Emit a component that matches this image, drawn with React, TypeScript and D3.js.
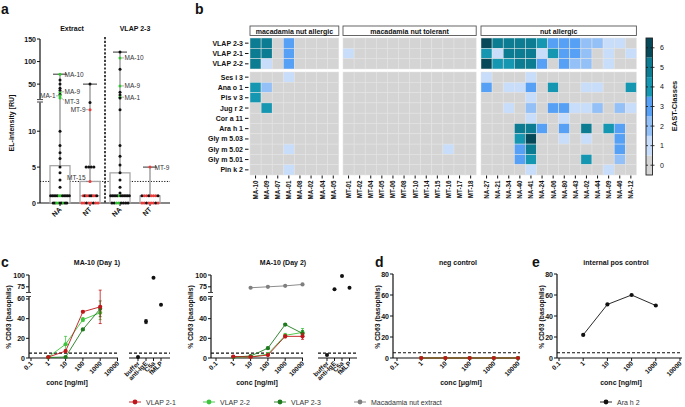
import React, { useEffect, useRef } from 'react'
import * as d3 from 'd3'

const FONT = '"Liberation Sans", Arial, sans-serif'

// ---------- panel a (box plots)
const aCategories = ['NA', 'NT', 'NA', 'NT']
const aTitles = ['Extract', 'VLAP 2-3']
const aQ3 = [5.2, 3, 4.2, 1]
const aMedian = [1, 1, 1, 0]
const aMax = [72, 50, 121, 5]
const aTicksLow = [0, 5, 10]
const aTicksUp = [50, 100, 150]
// [value, colour code] k = black, g = MA (green), r = MT (red)
const aExtractNA: [number, string][] = [
    [72, 'g'], [59, 'k'], [50, 'k'], [41, 'k'], [36, 'k'], [31, 'g'], [27, 'k'], [24, 'g'], [19, 'g'],
    [10, 'k'], [8, 'k'], [7, 'k'], [6.2, 'k'], [5, 'k'], [4.2, 'k'], [3.2, 'k'], [2.2, 'k'],
    [1, 'k'], [1, 'k'], [1, 'k'], [1, 'k'], [1, 'k'], [1, 'g'], [1, 'g'], [1, 'k'], [1, 'k'], [1, 'k'], [1, 'k'], [1, 'k'],
    [0, 'k'], [0, 'k'], [0, 'g'], [0, 'g'], [0, 'k'], [0, 'k'], [0, 'g'], [0, 'k'], [0, 'k']
]
const aExtractNT: [number, string][] = [
    [50, 'k'], [14, 'k'], [13, 'r'], [5, 'k'], [5, 'k'], [5, 'k'], [5, 'k'], [3, 'r'],
    [1, 'r'], [1, 'k'], [1, 'r'], [1, 'r'], [1, 'k'], [1, 'k'], [1, 'r'], [1, 'r'], [1, 'k'],
    [0, 'r'], [0, 'r'], [0, 'k'], [0, 'r'], [0, 'r'], [0, 'k'], [0, 'r'], [0, 'r']
]
const aVlapNA: [number, string][] = [
    [121, 'k'], [108, 'g'], [83, 'k'], [46, 'g'], [32, 'k'], [26, 'k'], [21, 'g'], [19, 'k'], [13, 'k'],
    [8, 'k'], [6.5, 'k'], [5.3, 'k'], [4.2, 'k'], [3.2, 'k'], [2.2, 'k'], [1.4, 'k'],
    [1, 'k'], [1, 'k'], [1, 'k'], [1, 'k'], [1, 'k'], [1, 'g'], [1, 'k'], [1, 'k'], [1, 'k'], [1, 'k'], [1, 'k'], [1, 'k'],
    [0, 'k'], [0, 'k'], [0, 'g'], [0, 'g'], [0, 'k'], [0, 'k'], [0, 'k'], [0, 'k']
]
const aVlapNT: [number, string][] = [
    [5, 'r'],
    [1, 'k'], [1, 'r'], [1, 'r'], [1, 'k'], [1, 'r'], [1, 'r'], [1, 'r'], [1, 'k'],
    [0, 'r'], [0, 'r'], [0, 'k'], [0, 'r'], [0, 'r'], [0, 'r'], [0, 'k'], [0, 'r']
]
const aPoints = [aExtractNA, aExtractNT, aVlapNA, aVlapNT]
// [column, value, text, side, baseline shift]
const aLabels: [number, number, string, string, number][] = [
    [0, 72, 'MA-10', 'r', 0], [0, 33, 'MA-9', 'r', 0], [0, 19, 'MT-3', 'r', 3.5], [0, 24, 'MA-1', 'l', 0],
    [1, 13, 'MT-9', 'l', 0], [1, 3, 'MT-15', 'l', -4],
    [2, 108, 'MA-10', 'r', 0], [2, 46, 'MA-9', 'r', 0], [2, 21, 'MA-1', 'r', 0],
    [3, 5, 'MT-9', 'r', 0]
]

// ---------- panel b (heatmap)
const vlapRows = ['VLAP 2-3', 'VLAP 2-1', 'VLAP 2-2']
const allergenRows = ['Ses i 3', 'Ana o 1', 'Pis v 3', 'Jug r 2', 'Cor a 11', 'Ara h 1', 'Gly m 5.03', 'Gly m 5.02', 'Gly m 5.01', 'Pin k 2']
const groupNames = ['macadamia nut allergic', 'macadamia nut tolerant', 'nut allergic']
const maCols = ['MA-10', 'MA-09', 'MA-07', 'MA-01', 'MA-08', 'MA-02', 'MA-04', 'MA-05']
const mtCols = ['MT-01', 'MT-02', 'MT-04', 'MT-05', 'MT-06', 'MT-08', 'MT-10', 'MT-14', 'MT-15', 'MT-16', 'MT-17', 'MT-18']
const naCols = ['NA-27', 'NA-21', 'NA-34', 'NA-40', 'NA-41', 'NA-24', 'NA-06', 'NA-80', 'NA-43', 'NA-02', 'NA-44', 'NA-09', 'NA-46', 'NA-12']
const maValues = [
    [5, 5, 0, 3, 0, 0, 0, 0],
    [5, 5, 0, 3, 0, 0, 0, 0],
    [5, 1, 0, 3, 0, 0, 0, 0],
    [0, 0, 0, 1, 0, 0, 0, 0],
    [4, 2, 0, 0, 0, 0, 0, 0],
    [4, 0, 0, 0, 0, 0, 0, 0],
    [0, 4, 0, 0, 0, 0, 0, 0],
    [0, 0, 0, 0, 0, 0, 0, 0],
    [0, 0, 0, 0, 0, 0, 0, 0],
    [0, 0, 0, 0, 0, 0, 0, 0],
    [0, 0, 0, 1, 0, 0, 0, 0],
    [0, 0, 0, 0, 0, 0, 0, 0],
    [0, 0, 0, 1, 0, 0, 0, 0]
]
const mtValues = [
    [0, 0, 0, 0, 0, 0, 0, 0, 0, 0, 0, 0],
    [1, 0, 0, 0, 0, 0, 0, 0, 0, 0, 0, 0],
    [0, 0, 0, 0, 0, 0, 0, 0, 0, 0, 0, 0],
    [0, 0, 0, 0, 0, 0, 0, 0, 0, 0, 0, 0],
    [0, 0, 0, 0, 0, 0, 0, 0, 0, 0, 0, 0],
    [0, 0, 0, 0, 0, 0, 0, 0, 0, 0, 0, 0],
    [0, 0, 0, 0, 0, 0, 0, 0, 0, 0, 0, 0],
    [0, 0, 0, 0, 0, 0, 0, 0, 0, 0, 0, 0],
    [0, 0, 0, 0, 0, 0, 0, 0, 0, 0, 0, 0],
    [0, 0, 0, 0, 0, 0, 0, 0, 0, 0, 0, 0],
    [0, 0, 0, 0, 0, 0, 0, 0, 0, 1, 0, 0],
    [0, 0, 0, 0, 0, 0, 0, 0, 0, 0, 0, 0],
    [0, 0, 0, 0, 0, 0, 0, 0, 0, 0, 0, 0]
]
const naValues = [
    [6, 5, 5, 5, 5, 4, 3, 3, 3, 2, 2, 1, 1, 0],
    [4, 1, 5, 5, 5, 1, 4, 3, 3, 2, 0, 1, 0, 1],
    [6, 4, 4, 5, 5, 3, 0, 3, 2, 2, 0, 1, 0, 0],
    [1, 0, 0, 0, 1, 0, 0, 0, 0, 0, 0, 0, 0, 0],
    [3, 0, 1, 1, 3, 0, 4, 0, 0, 1, 1, 0, 0, 4],
    [0, 0, 0, 0, 1, 0, 0, 0, 0, 0, 0, 0, 0, 0],
    [0, 0, 1, 0, 2, 0, 3, 3, 1, 1, 2, 0, 2, 1],
    [0, 0, 0, 0, 1, 0, 0, 1, 0, 0, 0, 0, 0, 0],
    [0, 0, 0, 5, 5, 3, 0, 3, 0, 5, 0, 4, 3, 0],
    [0, 0, 0, 4, 6, 0, 0, 1, 0, 1, 0, 0, 3, 0],
    [0, 0, 0, 3, 5, 0, 0, 0, 0, 0, 0, 0, 3, 0],
    [0, 0, 0, 3, 4, 0, 0, 0, 0, 4, 0, 0, 2, 0],
    [0, 0, 0, 0, 1, 0, 0, 0, 0, 0, 0, 1, 0, 0]
]
const eastClasses = [0, 1, 2, 3, 4, 5, 6]
const eastColors = ['#d4d4d4', '#c7ddfa', '#93c0f7', '#56a0f5', '#1597b2', '#0b7c92', '#064a5a']

// ---------- panels c, d, e (dose response)
const concTicks = [0.1, 1, 10, 100, 1000, 10000]
const ctrlLabels = ['buffer', 'anti-IgE', 'C5a', 'fMLP']
const day1Conc = [1, 10, 100, 1000]
const day1V21 = [1, 7, 47, 52]
const day1V21Err = [0.5, 1, 1, 17]
const day1V22 = [1, 14, 39, 46]
const day1V22Err = [0.5, 8, 2, 7]
const day1V23 = [0.5, 1, 29, 50]
const day1V23Err = [0.3, 0.5, 1, 8]
const day1Ctrl = [1, 37, 94, 54]
const day1CtrlErr = [0, 2, 0, 0]
const day2Conc = [1, 10, 100, 1000, 10000]
const day2V21 = [1.5, 1, 3, 22, 22]
const day2V21Err = [0.5, 0.5, 0.5, 1.5, 3]
const day2V22 = [1, 1, 4, 23, 26]
const day2V22Err = [0.5, 0.5, 0.5, 2, 4]
const day2V23 = [1, 2, 10, 34, 25]
const day2V23Err = [0.3, 0.5, 1, 1, 3]
const day2MacConc = [10, 100, 1000, 10000]
const day2Mac = [73, 75, 77, 80]
const day2Ctrl = [3, 70, 98, 73]
const day2CtrlErr = [0, 0, 0, 0]
const negConc = [1, 10, 100, 1000, 10000]
const negV21 = [0, 0, 0, 0, 0]
const negV22 = [0, 0, 0, 0, 0]
const negV23 = [0, 0, 0, 0, 0]
const posConc = [1, 10, 100, 1000]
const posAraH2 = [22, 51, 60, 50]
const legendNames = ['VLAP 2-1', 'VLAP 2-2', 'VLAP 2-3', 'Macadamia nut extract', 'Ara h 2']

const C21 = '#c0161b', C22 = '#3cc43c', C23 = '#1d7a1d', CMAC = '#7f7f7f', CBLK = '#111'
const dotColor: { [k: string]: string } = { k: '#111', g: '#2fc42f', r: '#ea3b3b' }

export default function App() {
    const ref = useRef<SVGSVGElement>(null)

    useEffect(() => {
        const svg = d3.select(ref.current)
        svg.selectAll('*').remove()
        svg.style('font-family', FONT)

        const text = (g: any, x: number, y: number, s: string, size: number, weight = 'bold', anchor = 'middle') =>
            g.append('text').attr('x', x).attr('y', y).text(s)
                .attr('font-size', size).attr('font-weight', weight).attr('text-anchor', anchor).attr('fill', '#111')
        const rtext = (g: any, x: number, y: number, s: string, size: number, angle: number, anchor: string, weight = 'bold') =>
            g.append('text').attr('transform', `translate(${x},${y}) rotate(${angle})`).text(s)
                .attr('font-size', size).attr('font-weight', weight).attr('text-anchor', anchor).attr('fill', '#111')
        const line = (g: any, x1: number, y1: number, x2: number, y2: number, stroke = '#111', w = 1) =>
            g.append('line').attr('x1', x1).attr('y1', y1).attr('x2', x2).attr('y2', y2)
                .attr('stroke', stroke).attr('stroke-width', w)

        // panel letters
        const letters: [string, number, number][] = [['a', 1, 14], ['b', 195, 14], ['c', 1, 267], ['d', 375, 267], ['e', 532, 267]]
        letters.forEach(([s, x, y]) => text(svg, x, y, s, 14, 'bold', 'start'))

        // ================= panel a
        const ga = svg.append('g')
        const aLow = d3.scaleLinear().domain([0, 14]).range([203, 102.5])
        const aUp = d3.scaleLinear().domain([17, 150]).range([99, 39])
        const ay = (v: number) => (v <= 15.5 ? aLow(v) : aUp(v))
        const ax = d3.scalePoint<number>().domain(d3.range(4)).range([60, 150])
        const aAxisX = 40

        line(ga, aAxisX, aLow(0), aAxisX, aLow(14), '#111', 1.2)
        line(ga, aAxisX, aUp(17), aAxisX, aUp(150), '#111', 1.2)
        line(ga, aAxisX - 3, 99.6, aAxisX + 3, 99.6, '#111', 0.8)
        line(ga, aAxisX - 3, 102, aAxisX + 3, 102, '#111', 0.8)
        aTicksLow.forEach(t => { line(ga, aAxisX - 3, aLow(t), aAxisX, aLow(t), '#111', 1); text(ga, aAxisX - 4, aLow(t) + 2.5, String(t), 7, 'bold', 'end') })
        aTicksUp.forEach(t => { line(ga, aAxisX - 3, aUp(t), aAxisX, aUp(t), '#111', 1); text(ga, aAxisX - 4, aUp(t) + 2.5, String(t), 7, 'bold', 'end') })
        rtext(ga, 14, 123, 'EL-intensity [RU]', 7, -90, 'middle')

        line(ga, aAxisX, aLow(0), 170, aLow(0), '#111', 1.2)
        aCategories.forEach((c, i) => {
            line(ga, ax(i)!, aLow(0), ax(i)!, aLow(0) + 3, '#111', 1)
            rtext(ga, ax(i)! + 2, aLow(0) + 7, c, 7, -45, 'end')
        })
        text(ga, 72, 31, aTitles[0], 7, 'bold')
        text(ga, 135, 31, aTitles[1], 7, 'bold')
        line(ga, 105, 37, 105, 203, '#111', 1.6).attr('stroke-dasharray', '2.2,1.6')
        line(ga, aAxisX, aLow(3), 170, aLow(3), '#111', 1).attr('stroke-dasharray', '1.2,1.5')

        aPoints.forEach((pts, i) => {
            const cx = ax(i)!
            line(ga, cx, ay(aQ3[i]), cx, ay(aMax[i]), '#b8b8b8', 2)
            line(ga, cx - 7, ay(aMax[i]), cx + 7, ay(aMax[i]), '#333', 1)
            ga.append('rect').attr('x', cx - 10).attr('y', ay(aQ3[i])).attr('width', 20)
                .attr('height', ay(0) - ay(aQ3[i])).attr('fill', 'white').attr('stroke', '#a8a8a8').attr('stroke-width', 1.3)
            line(ga, cx - 10, ay(aMedian[i]), cx + 10, ay(aMedian[i]), '#a8a8a8', 1.3)
            const groups = d3.groups(pts, d => d[0])
            groups.forEach(([v, arr]) => {
                const n = arr.length
                const step = n > 8 ? 1.7 : n > 4 ? 2.3 : 2.6
                arr.forEach((p, j) => {
                    ga.append('circle').attr('cx', cx + (j - (n - 1) / 2) * step).attr('cy', ay(v))
                        .attr('r', 1.5).attr('fill', dotColor[p[1]])
                })
            })
        })
        aLabels.forEach(([col, v, s, side, dy]) => {
            const cx = ax(col)!
            const y = ay(v)
            if (side === 'r') {
                line(ga, cx + 1.5, y, cx + 4, y + dy * 0.6, '#777', 0.6)
                text(ga, cx + 4.5, y + 2.4 + dy, s, 6.5, 'normal', 'start').attr('fill', '#333')
            } else {
                line(ga, cx - 4, y, cx - 1.5, y, '#777', 0.6)
                text(ga, cx - 4.5, y + 2.4 + dy, s, 6.5, 'normal', 'end').attr('fill', '#333')
            }
        })

        // ================= panel b
        const gb = svg.append('g')
        const colW = 11.1
        const groupX = [250, 343, 481]
        const groupCols = [maCols, mtCols, naCols]
        const groupVals = [maValues, mtValues, naValues]
        const rowNames = vlapRows.concat(allergenRows)
        const rowTop = (i: number) => (i < 3 ? 38 + i * 10.33 : 72 + (i - 3) * 10.3)
        const rowH = (i: number) => (i < 3 ? 10.33 : 10.3)
        const colour = d3.scaleOrdinal<number, string>().domain(eastClasses).range(eastColors)

        groupCols.forEach((cols, gi) => {
            const x0 = groupX[gi]
            const xs = d3.scaleBand<string>().domain(cols).range([x0, x0 + cols.length * colW])
            groupVals[gi].forEach((row, ri) => {
                row.forEach((v, ci) => {
                    gb.append('rect').attr('x', xs(cols[ci])!).attr('y', rowTop(ri))
                        .attr('width', xs.bandwidth()).attr('height', rowH(ri))
                        .attr('fill', colour(v)).attr('stroke', '#e4e4e4').attr('stroke-width', 0.5)
                })
            })
            gb.append('rect').attr('x', x0).attr('y', 26).attr('width', cols.length * colW).attr('height', 9.5)
                .attr('fill', 'white').attr('stroke', '#555').attr('stroke-width', 0.9)
            text(gb, x0 + cols.length * colW / 2, 33.5, groupNames[gi], 7, 'bold')
            cols.forEach(c => {
                const cx = xs(c)! + xs.bandwidth() / 2
                line(gb, cx, 175.5, cx, 178.5, '#111', 1)
                rtext(gb, cx + 2.4, 180.5, c, 6.3, -90, 'end')
            })
        })
        rowNames.forEach((r, i) => {
            const cy = rowTop(i) + rowH(i) / 2
            line(gb, 245, cy, 248.5, cy, '#111', 1)
            text(gb, 243, cy + 2.5, r, 7, 'bold', 'end')
        })
        // colour bar
        const cb = d3.scaleLinear().domain([-0.5, 6.5]).range([175, 38])
        eastClasses.forEach(k => {
            gb.append('rect').attr('x', 646).attr('y', cb(k + 0.5)).attr('width', 6.5)
                .attr('height', cb(k - 0.5) - cb(k + 0.5)).attr('fill', colour(k))
            line(gb, 646, cb(k), 648, cb(k), '#111', 0.8)
            line(gb, 650.5, cb(k), 654.5, cb(k), '#111', 0.8)
            text(gb, 660, cb(k) + 2.5, String(k), 7, 'normal', 'start')
        })
        gb.append('rect').attr('x', 646).attr('y', 38).attr('width', 6.5).attr('height', 137)
            .attr('fill', 'none').attr('stroke', '#222').attr('stroke-width', 0.9)
        rtext(gb, 677, 106, 'EAST-Classes', 7.5, -90, 'middle')

        // ================= panels c, d, e
        type Series = { conc: number[], vals: number[], err?: number[], color: string }
        type Cfg = {
            axisX: number, xr: [number, number], xEnd: number, lowDom: [number, number], lowTicks: number[],
            upDom?: [number, number], upTicks?: number[], ctrlX?: number[], ctrlAxis?: [number, number],
            ctrlVals?: number[], ctrlErr?: number[], series: Series[], title: string, titleX: number,
            ylabX: number, concLabel: string, concX: number
        }
        const drawXY = (cfg: Cfg) => {
            const g = svg.append('g')
            const base = 358
            const x = d3.scaleLog().domain([0.1, 10000]).range(cfg.xr)
            const yL = d3.scaleLinear().domain(cfg.lowDom).range(cfg.upDom ? [base, 297] : [base, 274])
            const yU = cfg.upDom ? d3.scaleLinear().domain(cfg.upDom).range([292, 275]) : null
            const y = (v: number) => (yU && v > cfg.lowDom[1] ? yU(v) : yL(v))
            const ax = cfg.axisX

            line(g, ax, base, ax, yL(cfg.lowDom[1]), '#111', 1.2)
            cfg.lowTicks.forEach(t => { line(g, ax - 3, yL(t), ax, yL(t), '#111', 1); text(g, ax - 4, yL(t) + 2.5, String(t), 7, 'bold', 'end') })
            if (yU && cfg.upDom && cfg.upTicks) {
                line(g, ax, yU(cfg.upDom[0]), ax, yU(cfg.upDom[1]), '#111', 1.2)
                cfg.upTicks.forEach(t => { line(g, ax - 3, yU(t), ax, yU(t), '#111', 1); text(g, ax - 4, yU(t) + 2.5, String(t), 7, 'bold', 'end') })
                line(g, ax - 3, 292.5, ax + 2, 292.5, '#111', 0.8)
                line(g, ax - 3, 296.5, ax + 2, 296.5, '#111', 0.8)
            }
            rtext(g, cfg.ylabX, 317, '% CD63 (basophils)', 6.8, -90, 'middle')
            text(g, cfg.titleX, 265, cfg.title, 7, 'bold')

            line(g, ax, base, cfg.xEnd, base, '#111', 1.2)
            concTicks.forEach(t => {
                line(g, x(t), base, x(t), base + 3, '#111', 1)
                rtext(g, x(t) + 2, base + 6, String(t), 6.5, -45, 'end')
            })
            text(g, cfg.concX, 385, cfg.concLabel, 7, 'bold')
            line(g, ax, yL(5), cfg.xEnd, yL(5), '#111', 1.2).attr('stroke-dasharray', '3,2')

            if (cfg.ctrlX && cfg.ctrlAxis && cfg.ctrlVals) {
                const [c0, c1] = cfg.ctrlAxis
                line(g, c0, base, c1, base, '#111', 1.2)
                line(g, c0, yL(5), c1, yL(5), '#111', 1.2).attr('stroke-dasharray', '3,2')
                cfg.ctrlX.forEach((cx, i) => {
                    line(g, cx, base, cx, base + 3, '#111', 1)
                    rtext(g, cx + 2, base + 6, ctrlLabels[i], 6.5, -45, 'end')
                    const v = cfg.ctrlVals![i]
                    const e = cfg.ctrlErr ? cfg.ctrlErr[i] : 0
                    if (e > 0) {
                        line(g, cx, yL(v - e), cx, yL(v + e), CBLK, 0.8)
                        line(g, cx - 1.5, yL(v + e), cx + 1.5, yL(v + e), CBLK, 0.8)
                        line(g, cx - 1.5, yL(v - e), cx + 1.5, yL(v - e), CBLK, 0.8)
                    }
                    g.append('circle').attr('cx', cx).attr('cy', y(v)).attr('r', 2).attr('fill', CBLK)
                })
            }

            cfg.series.forEach(s => {
                const pts = s.conc.map((c, i) => [x(c), y(s.vals[i])] as [number, number])
                g.append('path').attr('d', d3.line()(pts)).attr('fill', 'none').attr('stroke', s.color).attr('stroke-width', 0.9)
                if (s.err) {
                    s.conc.forEach((c, i) => {
                        const v = s.vals[i], e = s.err![i]
                        const yt = (yU && v > cfg.lowDom[1]) ? yU(v + e) : yL(v + e)
                        const yb = (yU && v > cfg.lowDom[1]) ? yU(v - e) : yL(v - e)
                        line(g, x(c), yb, x(c), yt, s.color, 0.8)
                        line(g, x(c) - 1.5, yt, x(c) + 1.5, yt, s.color, 0.8)
                        line(g, x(c) - 1.5, yb, x(c) + 1.5, yb, s.color, 0.8)
                    })
                }
                pts.forEach(p => g.append('circle').attr('cx', p[0]).attr('cy', p[1]).attr('r', 2.1).attr('fill', s.color))
            })
        }

        drawXY({
            axisX: 29, xr: [31, 117.5], xEnd: 118, lowDom: [0, 62], lowTicks: [0, 20, 40, 60],
            upDom: [64, 100], upTicks: [75, 100], ctrlX: [138, 146, 153.5, 161], ctrlAxis: [129, 170],
            ctrlVals: day1Ctrl, ctrlErr: day1CtrlErr,
            series: [
                { conc: day1Conc, vals: day1V22, err: day1V22Err, color: C22 },
                { conc: day1Conc, vals: day1V23, err: day1V23Err, color: C23 },
                { conc: day1Conc, vals: day1V21, err: day1V21Err, color: C21 }
            ],
            title: 'MA-10 (Day 1)', titleX: 97, ylabX: 11, concLabel: 'conc [ng/ml]', concX: 67
        })
        drawXY({
            axisX: 211, xr: [216, 302.5], xEnd: 303, lowDom: [0, 62], lowTicks: [0, 20, 40, 60],
            upDom: [64, 100], upTicks: [75, 100], ctrlX: [327, 334.5, 342, 349.5], ctrlAxis: [318, 357],
            ctrlVals: day2Ctrl, ctrlErr: day2CtrlErr,
            series: [
                { conc: day2MacConc, vals: day2Mac, color: CMAC },
                { conc: day2Conc, vals: day2V22, err: day2V22Err, color: C22 },
                { conc: day2Conc, vals: day2V23, err: day2V23Err, color: C23 },
                { conc: day2Conc, vals: day2V21, err: day2V21Err, color: C21 }
            ],
            title: 'MA-10 (Day 2)', titleX: 283, ylabX: 193, concLabel: 'conc [ng/ml]', concX: 257
        })
        drawXY({
            axisX: 393, xr: [397, 518], xEnd: 520, lowDom: [0, 80], lowTicks: [0, 20, 40, 60, 80],
            series: [
                { conc: negConc, vals: negV23, color: C23 },
                { conc: negConc, vals: negV22, color: C22 },
                { conc: negConc, vals: negV21, color: C21 }
            ],
            title: 'neg control', titleX: 458, ylabX: 380, concLabel: 'conc [μg/ml]', concX: 461
        })
        drawXY({
            axisX: 557, xr: [559, 680], xEnd: 682, lowDom: [0, 80], lowTicks: [0, 20, 40, 60, 80],
            series: [{ conc: posConc, vals: posAraH2, color: CBLK }],
            title: 'internal pos control', titleX: 616, ylabX: 544, concLabel: 'conc [ng/ml]', concX: 621
        })

        // legend
        const legendColors = [C21, C22, C23, CMAC, CBLK]
        const legendX = [129, 203, 274, 354, 600]
        legendNames.forEach((n, i) => {
            const lx = legendX[i]
            line(svg, lx, 402, lx + 12, 402, legendColors[i], 0.9)
            svg.append('circle').attr('cx', lx + 6).attr('cy', 402).attr('r', 2.4).attr('fill', legendColors[i])
            text(svg, lx + 17, 404.5, n, 7, 'normal', 'start').attr('fill', '#333')
        })
    }, [])

    return (
        <svg ref={ref} width={685} height={407} style={{ position: 'absolute', left: 0, top: 0, background: '#fff' }} />
    )
}
